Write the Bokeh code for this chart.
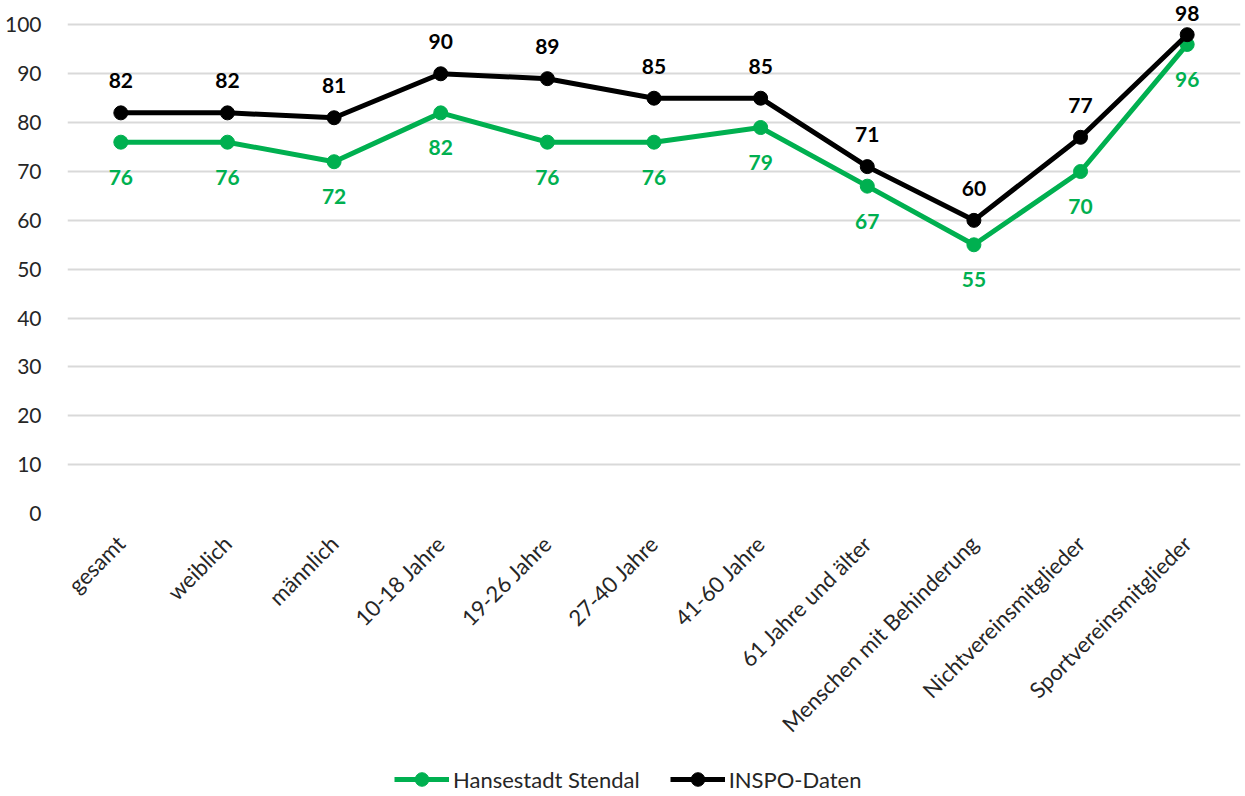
import math
from bokeh.plotting import figure
from bokeh.layouts import column
from bokeh.models import ColumnDataSource, Legend, LegendItem, FactorRange, Range1d, SingleIntervalTicker
from bokeh.embed import file_html
from bokeh.resources import INLINE
from bokeh.core.properties import value

categories = ["gesamt", "weiblich", "männlich", "10-18 Jahre", "19-26 Jahre", "27-40 Jahre",
              "41-60 Jahre", "61 Jahre und älter", "Menschen mit Behinderung",
              "Nichtvereinsmitglieder", "Sportvereinsmitglieder"]
stendal = [76, 76, 72, 82, 76, 76, 79, 67, 55, 70, 96]
inspo = [82, 82, 81, 90, 89, 85, 85, 71, 60, 77, 98]
series_names = ["Hansestadt Stendal", "INSPO-Daten"]

GREEN = "#00b050"
FONT = "Lato"

# label offsets (px): last black label sits closer to its point to stay inside the frame
top_off = [-32] * (len(categories) - 1) + [-21]

src = ColumnDataSource(dict(cat=categories, s=stendal, i=inspo,
                            sl=[str(v) for v in stendal], il=[str(v) for v in inspo],
                            toff=top_off))

p = figure(width=1245, height=756,
           x_range=FactorRange(*categories, range_padding=0),
           y_range=Range1d(0, 105), output_backend="svg", toolbar_location=None,
           min_border_top=0, min_border_left=67, min_border_right=5, min_border_bottom=243)
p.outline_line_color = None
p.background_fill_color = "white"

p.line("cat", "s", source=src, line_color=GREEN, line_width=5)
p.scatter("cat", "s", source=src, size=14, fill_color=GREEN, line_color=GREEN)
p.line("cat", "i", source=src, line_color="black", line_width=5)
p.scatter("cat", "i", source=src, size=14, fill_color="black", line_color="black")

p.text("cat", "i", text="il", source=src, y_offset="toff", text_align="center", text_baseline="middle",
       text_font=value(FONT), text_font_style="bold", text_font_size="21px", text_color="black")
p.text("cat", "s", text="sl", source=src, y_offset=35, text_align="center", text_baseline="middle",
       text_font=value(FONT), text_font_style="bold", text_font_size="21px", text_color=GREEN)

p.yaxis.ticker = SingleIntervalTicker(interval=10)
p.yaxis.axis_line_color = None
p.yaxis.major_tick_line_color = None
p.yaxis.minor_tick_line_color = None
p.yaxis.major_label_standoff = 20
p.yaxis.major_label_text_font = FONT
p.yaxis.major_label_text_font_size = "21px"
p.yaxis.major_label_text_color = "#262626"

p.xaxis.axis_line_color = None
p.xaxis.major_tick_line_color = None
p.xaxis.minor_tick_line_color = None
p.xaxis.major_label_orientation = math.pi / 4
p.xaxis.major_label_standoff = 20
p.xaxis.major_label_text_font = FONT
p.xaxis.major_label_text_font_size = "22px"
p.xaxis.major_label_text_color = "#262626"

p.xgrid.grid_line_color = None
p.ygrid.grid_line_color = "#d9d9d9"
p.ygrid.grid_line_width = 2
p.ygrid.ticker = SingleIntervalTicker(interval=10)

# legend strip below the chart (swatch renderers sit outside the strip's visible range)
lf = figure(width=1245, height=40, x_range=Range1d(0, 1), y_range=Range1d(0, 1),
            output_backend="svg", toolbar_location=None,
            x_axis_location=None, y_axis_location=None,
            min_border=0)
lf.outline_line_color = None
lf.xgrid.grid_line_color = None
lf.ygrid.grid_line_color = None
swatch = ColumnDataSource(dict(x=[5, 6], y=[5, 6]))
l1 = lf.line("x", "y", source=swatch, line_color=GREEN, line_width=5)
m1 = lf.scatter("x", "y", source=swatch, size=14, fill_color=GREEN, line_color=GREEN)
l2 = lf.line("x", "y", source=swatch, line_color="black", line_width=5)
m2 = lf.scatter("x", "y", source=swatch, size=14, fill_color="black", line_color="black")

legend = Legend(items=[LegendItem(label=series_names[0], renderers=[l1, m1]),
                       LegendItem(label=series_names[1], renderers=[l2, m2])],
                orientation="horizontal", location=(327, 0))
legend.border_line_color = None
legend.background_fill_alpha = 0
legend.label_text_font = FONT
legend.label_text_font_size = "22px"
legend.label_text_color = "#262626"
legend.glyph_width = 55
legend.glyph_height = 34
legend.spacing = 30
legend.padding = 2
legend.margin = 0
legend.label_standoff = 4
lf.add_layout(legend, "center")

layout = column(p, lf, spacing=0)
open("out.html", "w").write(file_html(layout, INLINE))
